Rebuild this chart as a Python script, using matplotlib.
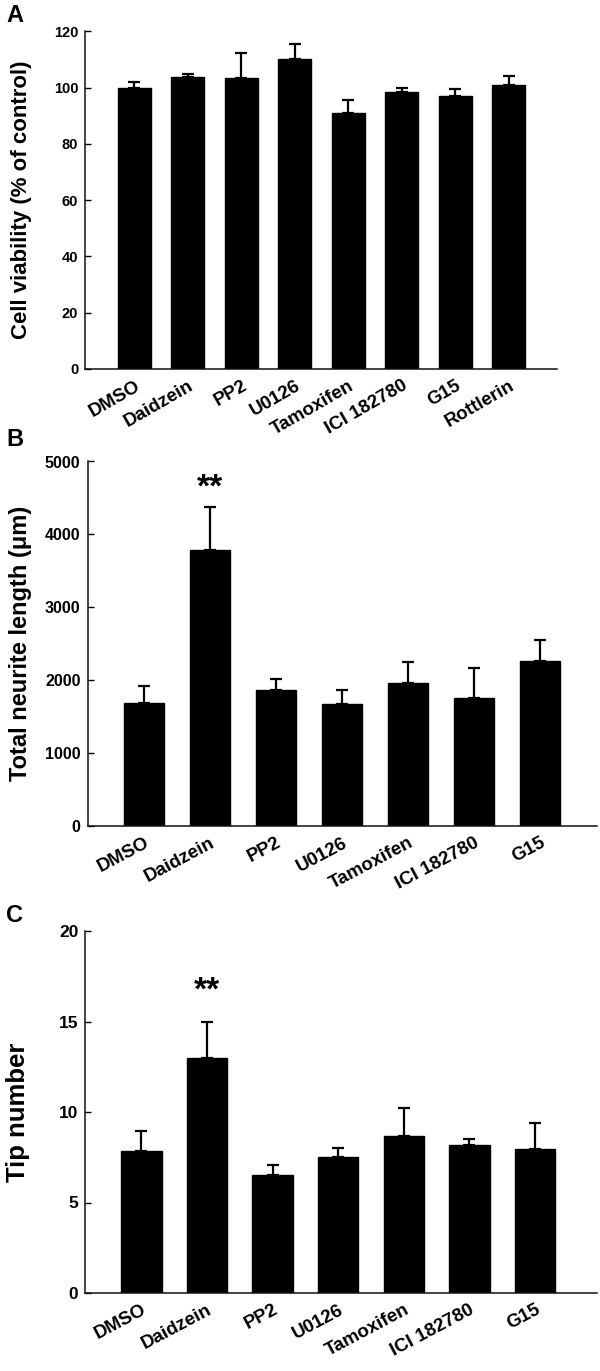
import matplotlib
matplotlib.use("Agg")
import matplotlib.pyplot as plt
import matplotlib.transforms as mtransforms
import numpy as np

plt.rcParams["font.family"] = ["Liberation Sans", "DejaVu Sans"]
plt.rcParams["font.weight"] = "bold"

W, H = 600, 1371

# A: cell viability
labels_a = ["DMSO", "Daidzein", "PP2", "U0126", "Tamoxifen", "ICI 182780", "G15", "Rottlerin"]
viability = [100.0, 103.8, 103.5, 110.1, 91.1, 98.4, 97.1, 101.1]
viability_err = [2.2, 1.2, 8.8, 5.3, 4.7, 1.6, 2.5, 3.1]

# B: total neurite length
labels_bc = ["DMSO", "Daidzein", "PP2", "U0126", "Tamoxifen", "ICI 182780", "G15"]
neurite = [1685, 3790, 1868, 1680, 1963, 1753, 2269]
neurite_err = [233, 590, 146, 183, 293, 416, 288]

# C: tip number
tips = [7.83, 13.0, 6.51, 7.52, 8.68, 8.18, 7.98]
tips_err = [1.10, 1.96, 0.55, 0.51, 1.54, 0.33, 1.41]


def px_axes(fig, left, top, right, bottom):
    return fig.add_axes([left / W, 1 - bottom / H, (right - left) / W, (bottom - top) / H])


def bar_panel(ax, labels, vals, errs, ylim, yticks, ylabel, xlim,
              label_right, label_size, tick_size, xrot):
    x = np.arange(len(labels))
    ax.bar(x, vals, width=0.617, color="black", edgecolor="black", zorder=2)
    ax.errorbar(x, vals, yerr=[np.zeros(len(errs)), errs], fmt="none",
                ecolor="black", elinewidth=1.6, capsize=4.3, capthick=1.6, zorder=1)
    ax.set_xlim(*xlim)
    ax.set_ylim(*ylim)
    ax.set_yticks(yticks)
    ax.set_xticks(x)
    ax.set_xticklabels(labels, rotation=xrot, ha="right", va="top",
                       rotation_mode="anchor", fontsize=13.5, fontweight="bold")
    shift = mtransforms.ScaledTranslation(4 / 100, 0, ax.figure.dpi_scale_trans)
    for t in ax.get_xticklabels():
        t.set_transform(t.get_transform() + shift)
    ax.tick_params(axis="x", length=0, pad=6)
    ax.tick_params(axis="y", direction="in", length=4, width=1.0,
                   labelsize=tick_size, pad=5)
    for t in ax.get_yticklabels():
        t.set_fontweight("bold")
    for s in ["top", "right"]:
        ax.spines[s].set_visible(False)
    for s in ["left", "bottom"]:
        ax.spines[s].set_linewidth(1.1)
        ax.spines[s].set_color("#111111")
    ax.set_ylabel(ylabel, fontsize=label_size, fontweight="bold")
    left_px = ax.get_position().x0 * W
    width_px = ax.get_position().width * W
    ax.yaxis.set_label_coords((label_right - left_px) / width_px, 0.5)


fig = plt.figure(figsize=(W / 100, H / 100), dpi=100)

ax1 = px_axes(fig, 85.2, 31.5, 556.7, 369)
bar_panel(ax1, labels_a, viability, viability_err, (0, 120), range(0, 121, 20),
          "Cell viability (% of control)", (-0.92, 7.895), 32, 16, 10.5, 30)

ax2 = px_axes(fig, 87.5, 461.5, 597, 826)
bar_panel(ax2, labels_bc, neurite, neurite_err, (0, 5000), range(0, 5001, 1000),
          "Total neurite length (μm)", (-0.856, 6.864), 32, 17, 11.5, 28)
ax2.text(1, 4637, "**", ha="center", va="center", fontsize=24, fontweight="bold")

ax3 = px_axes(fig, 85.2, 931, 597, 1293)
bar_panel(ax3, labels_bc, tips, tips_err, (0, 20), range(0, 21, 5),
          "Tip number", (-0.855, 6.945), 30, 18.5, 12.5, 28)
ax3.text(1, 16.7, "**", ha="center", va="center", fontsize=24, fontweight="bold")

for lab, y in [("A", 15), ("B", 439), ("C", 915)]:
    fig.text(6 / W, 1 - y / H, lab, fontsize=17, fontweight="bold", va="center", ha="left")

fig.savefig("out.png", dpi=100)
